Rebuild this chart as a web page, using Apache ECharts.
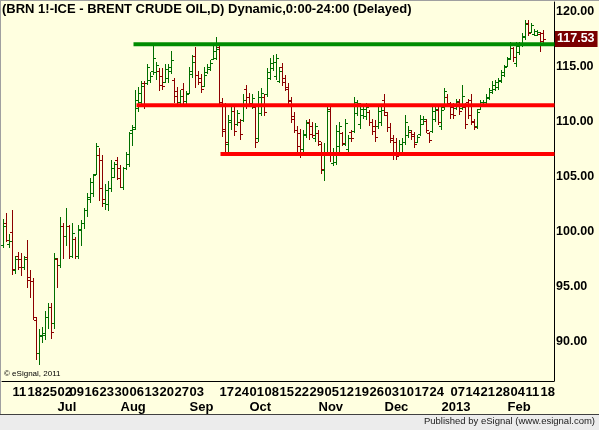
<!DOCTYPE html>
<html>
<head>
<meta charset="utf-8">
<script src="https://cdn.jsdelivr.net/npm/echarts@6/dist/echarts.min.js"></script>
<style>
  html, body { margin: 0; padding: 0; background: #ffffe0; }
  #main { width: 599px; height: 430px; }
</style>
</head>
<body>
<div id="main"></div>
<script>
// daily bars
const open = [98.8,100.8,98.9,100.0,96.5,97.8,97.5,96.8,97.7,95.9,95.5,92.0,89.0,90.5,90.6,92.3,93.2,91.7,97.5,97.0,
  100.5,99.6,100.5,97.8,99.4,97.8,100.2,100.8,102.0,103.0,103.5,105.3,107.0,106.5,102.6,102.5,104.0,105.0,106.5,105.8,
  104.1,105.8,106.2,109.3,109.4,111.3,111.8,113.5,113.5,113.8,114.6,114.5,114.6,114.2,113.6,114.0,114.6,113.8,112.8,111.8,
  113.0,111.9,112.6,114.4,116.0,114.3,114.0,113.3,114.5,114.8,115.7,115.8,116.8,111.8,109.4,108.0,110.0,111.0,109.8,110.0,
  110.2,113.0,112.3,111.6,111.4,108.5,110.8,112.3,112.5,114.0,114.9,114.2,113.7,115.0,114.0,113.2,112.0,110.5,109.3,109.0,
  107.5,108.8,110.0,109.6,108.5,109.0,108.0,105.6,107.3,111.2,106.3,106.4,107.8,109.0,108.0,107.5,109.1,109.2,110.8,109.8,
  110.6,110.5,110.9,110.0,109.6,109.6,110.0,112.0,110.6,109.5,108.5,108.2,107.2,107.3,108.2,108.8,109.1,108.9,108.2,108.9,
  109.8,110.1,109.0,109.2,110.3,111.1,109.6,111.4,112.3,111.6,111.4,111.3,111.8,111.3,111.4,111.8,112.0,110.0,109.6,111.2,
  111.5,111.6,112.2,112.7,113.0,113.2,113.7,114.3,115.1,115.8,116.7,115.4,116.4,117.0,117.7,119.0,118.2,118.0,117.9,118.0,
  118.1];
const high = [101.2,101.7,99.8,102.0,97.8,98.2,98.1,97.8,99.3,96.5,95.8,92.3,91.2,91.4,92.8,93.5,93.5,98.1,97.6,101.4,
  100.8,102.2,100.6,100.8,99.5,100.6,101.1,102.2,103.5,104.9,105.3,108.1,107.6,107.0,104.4,104.6,106.5,106.4,106.8,106.1,
  105.9,107.3,109.1,109.7,112.9,113.2,113.7,113.7,115.3,114.5,117.0,115.5,114.9,114.9,115.3,115.3,116.5,114.0,113.2,112.9,
  113.5,112.8,115.0,116.1,116.8,114.6,114.4,115.0,115.3,115.6,117.0,117.7,117.1,112.2,111.7,110.6,111.5,111.4,111.1,110.3,
  112.5,113.4,112.6,112.5,111.5,112.8,113.1,112.5,114.9,115.8,116.1,116.2,115.0,115.4,114.3,113.5,112.3,110.9,109.6,109.4,
  109.3,110.2,110.3,110.0,109.9,109.3,108.2,108.1,111.5,111.5,107.6,109.7,110.0,109.1,110.3,108.8,109.3,112.3,112.0,111.7,
  111.5,111.7,111.1,110.3,110.2,111.4,111.4,112.5,110.9,109.9,108.8,108.5,108.4,108.5,110.6,109.6,109.3,109.1,108.8,110.6,
  110.5,110.3,109.1,111.4,111.5,111.4,111.5,113.1,112.5,111.8,111.7,112.1,112.1,113.4,111.7,112.1,112.5,110.3,111.2,112.0,
  112.0,112.5,113.1,113.7,113.8,114.0,114.7,115.2,115.9,117.3,116.8,117.3,117.3,118.1,119.3,119.3,119.0,118.5,118.4,118.2,
  118.4];
const low = [98.5,99.1,98.5,96.1,96.2,96.5,96.0,96.5,94.9,94.0,92.0,88.4,87.9,89.9,90.2,91.2,90.3,91.2,94.9,96.7,
  97.5,98.7,97.5,97.6,97.5,97.5,98.7,100.3,101.4,102.6,103.2,105.2,102.8,102.3,102.0,101.9,103.6,104.9,104.7,104.0,
  103.8,105.6,105.9,107.8,109.3,110.9,111.4,111.2,113.4,113.5,114.3,113.8,112.8,112.9,113.5,113.5,114.4,111.7,111.5,111.5,
  111.5,111.5,112.5,114.0,113.1,113.4,112.6,113.2,114.4,114.6,115.6,115.6,111.4,108.6,107.3,107.0,109.3,108.7,109.6,108.4,
  110.0,111.2,111.4,111.2,107.6,108.2,110.5,110.5,112.3,113.8,114.6,113.8,113.5,113.3,112.8,111.5,109.9,109.0,107.3,106.7,
  107.3,108.5,108.4,108.5,108.2,107.8,105.3,104.6,107.1,106.4,106.0,106.1,107.3,107.8,107.8,107.2,108.2,109.0,110.5,109.4,
  110.3,110.2,109.6,108.8,108.2,109.4,109.6,110.5,109.1,108.1,106.5,106.5,107.0,107.0,107.9,108.5,108.4,107.6,108.1,108.7,
  109.7,109.0,108.1,109.0,110.0,109.7,109.3,111.1,111.4,110.3,110.3,111.1,110.6,111.1,109.4,110.3,109.7,109.3,109.4,111.1,
  111.4,111.4,112.0,112.5,112.8,112.9,113.5,114.1,115.0,115.6,115.5,115.0,116.1,116.8,117.5,117.8,118.1,117.8,117.8,116.4,
  117.0];
const close = [100.5,99.3,99.2,96.6,97.5,96.8,96.8,97.5,95.6,95.5,92.3,89.0,90.6,90.8,92.3,93.2,90.9,97.6,97.0,100.5,
  99.6,100.5,97.8,99.9,97.8,100.3,100.8,102.0,103.2,104.5,105.2,107.8,104.0,103.0,103.8,104.0,105.8,106.2,104.9,104.1,
  105.8,107.1,109.0,109.5,112.0,112.6,113.3,111.6,115.0,114.2,115.8,115.2,113.4,113.3,114.8,115.0,115.6,112.4,111.8,112.4,
  111.9,112.5,114.6,115.5,114.3,113.6,113.0,114.3,115.0,115.4,116.5,116.6,111.8,109.2,108.2,110.2,111.0,109.2,110.8,108.9,
  112.0,111.6,111.7,112.2,108.2,112.3,112.6,110.9,114.5,115.4,115.5,115.8,114.6,113.6,113.0,111.9,110.3,109.3,107.8,107.3,
  108.9,109.9,108.9,108.8,109.6,108.3,105.7,107.2,111.0,107.0,107.3,109.2,109.6,108.1,109.9,108.5,108.5,111.8,111.7,111.2,
  111.2,111.4,110.0,109.2,108.6,111.0,111.1,110.9,109.5,108.4,107.0,106.9,108.0,108.2,110.0,109.3,108.7,108.0,108.6,110.3,
  110.3,109.3,108.4,111.0,111.2,110.0,111.1,112.8,111.7,110.7,110.6,111.9,111.0,112.4,109.8,110.6,110.1,109.5,110.9,111.8,
  111.8,112.3,112.9,113.4,113.6,113.8,114.5,115.0,115.7,117.0,115.9,116.9,117.0,117.8,118.9,118.1,118.8,118.3,118.2,117.4,
  117.53];

// trading days from 6 Jun 2012, plus three empty slots on the right
const firstDay = '2012-06-06';
const holidays = ['2012-07-04', '2012-12-25', '2012-12-26', '2013-01-01'];
const dates = [];
for (let d = new Date(firstDay + 'T00:00:00Z'); dates.length < open.length + 3; d.setUTCDate(d.getUTCDate() + 1)) {
  const s = d.toISOString().slice(0, 10);
  const wd = d.getUTCDay();
  if (wd === 0 || wd === 6 || holidays.includes(s)) continue;
  dates.push(s);
}

// axis labels
const dayTicks = ['2012-06-11','2012-06-18','2012-06-25','2012-07-02','2012-07-09','2012-07-16','2012-07-23','2012-07-30',
  '2012-08-06','2012-08-13','2012-08-20','2012-08-27','2012-09-03','2012-09-17','2012-09-24','2012-10-01','2012-10-08',
  '2012-10-15','2012-10-22','2012-10-29','2012-11-05','2012-11-12','2012-11-19','2012-11-26','2012-12-03','2012-12-10',
  '2012-12-17','2012-12-24','2013-01-07','2013-01-14','2013-01-21','2013-01-28','2013-02-04','2013-02-11','2013-02-18'];
const monthTicks = ['2012-07-02','2012-08-01','2012-09-03','2012-10-01','2012-11-01','2012-12-03','2013-01-02','2013-02-01'];
const monthNames = ['Jul','Aug','Sep','Oct','Nov','Dec','2013','Feb'];
const priceTicks = [90, 95, 100, 105, 110, 115, 120];

// drawn trend lines: [start date, price]
const resistLine = ['2012-08-08', 117.06];
const midLine = ['2012-08-09', 111.52];
const supportLine = ['2012-09-18', 107.09];

const upColor = '#006e00';
const downColor = '#8c0000';
const font = 'Liberation Sans, Arial, sans-serif';

const chart = echarts.init(document.getElementById('main'));
const ohlc = open.map((o, i) => [i, o, high[i], low[i], close[i]]);
const lastIdx = dates.length - 1;
const lastBar = close.length - 1;
const hline = (ln) => [[dates.indexOf(ln[0]), ln[1]], [lastIdx, ln[1]]];

const option = {
  animation: false,
  backgroundColor: '#ffffe0',
  title: {
    text: '(BRN 1!-ICE - BRENT CRUDE OIL,D) Dynamic,0:00-24:00 (Delayed)',
    left: 2, top: 3, padding: 0,
    textStyle: { fontFamily: font, fontSize: 13, fontWeight: 'bold', color: '#000' }
  },
  grid: { left: 2, right: 45, top: 2, bottom: 49 },
  xAxis: [
    {
      type: 'category', data: dates, boundaryGap: true,
      axisLine: { lineStyle: { color: '#000', width: 1 } },
      axisTick: { show: false },
      splitLine: { show: false },
      axisLabel: {
        interval: (i, v) => dayTicks.includes(v),
        formatter: (v) => v.slice(8),
        align: 'left', margin: 5,
        fontFamily: font, fontSize: 13, fontWeight: 'bold', color: '#000'
      }
    },
    {
      type: 'category', data: dates, boundaryGap: true, position: 'bottom', offset: 15,
      axisLine: { show: false }, axisTick: { show: false },
      axisLabel: {
        interval: (i, v) => monthTicks.includes(v),
        formatter: (v) => monthNames[monthTicks.indexOf(v)] || '',
        align: 'left', margin: 5,
        fontFamily: font, fontSize: 13, fontWeight: 'bold', color: '#000'
      }
    }
  ],
  yAxis: {
    type: 'value', position: 'right', min: 86.45, max: 120.91,
    axisLine: { show: true, lineStyle: { color: '#000' } },
    axisTick: { show: false },
    splitLine: { show: false },
    axisLabel: {
      customValues: priceTicks,
      formatter: (v) => v.toFixed(2),
      margin: 2, align: 'left',
      fontFamily: font, fontSize: 12.5, fontWeight: 'bold', color: '#000'
    }
  },
  series: [
    {
      type: 'custom',
      data: ohlc,
      encode: { x: 0, y: [1, 2, 3, 4] },
      z: 2,
      renderItem: function (params, api) {
        const i = api.value(0);
        const col = api.value(4) >= api.value(1) ? upColor : downColor;
        const pO = api.coord([i, api.value(1)]);
        const pH = api.coord([i, api.value(2)]);
        const pL = api.coord([i, api.value(3)]);
        const pC = api.coord([i, api.value(4)]);
        const x = Math.floor(pH[0]);
        const yH = Math.round(pH[1]);
        const yL = Math.round(pL[1]);
        return {
          type: 'group',
          children: [
            { type: 'rect', shape: { x: x, y: yH, width: 1, height: Math.max(1, yL - yH) }, style: { fill: col } },
            { type: 'rect', shape: { x: x - 2, y: Math.round(pO[1]), width: 2, height: 1 }, style: { fill: col } },
            { type: 'rect', shape: { x: x + 1, y: Math.round(pC[1]), width: 2, height: 1 }, style: { fill: col } }
          ]
        };
      }
    },
    { type: 'line', data: hline(resistLine), symbol: 'none', z: 5, lineStyle: { color: '#008c00', width: 4, cap: 'square' } },
    { type: 'line', data: hline(midLine), symbol: 'none', z: 5, lineStyle: { color: '#ff0000', width: 4, cap: 'square' } },
    { type: 'line', data: hline(supportLine), symbol: 'none', z: 5, lineStyle: { color: '#ff0000', width: 4, cap: 'square' } },
    {
      // last price tag on the price scale
      type: 'custom', z: 10, clip: false,
      data: [[lastBar, close[lastBar]]],
      renderItem: function (params, api) {
        const p = api.coord([api.value(0), api.value(1)]);
        const cs = params.coordSys;
        return {
          type: 'text',
          x: cs.x + cs.width + 1,
          y: Math.round(p[1]),
          style: {
            text: api.value(1).toFixed(2),
            fill: '#fff',
            backgroundColor: '#7a0000',
            padding: [2, 3, 1, 2],
            font: 'bold 12.5px ' + font,
            verticalAlign: 'middle',
            align: 'left'
          }
        };
      }
    }
  ],
  graphic: [
    { type: 'rect', shape: { x: 0, y: 0, width: 599, height: 1 }, style: { fill: '#a0a0a0' }, silent: true },
    { type: 'rect', shape: { x: 0, y: 0, width: 1, height: 415 }, style: { fill: '#a0a0a0' }, silent: true },
    { type: 'rect', shape: { x: 0, y: 415, width: 599, height: 15 }, style: { fill: '#ececec' }, silent: true },
    { type: 'rect', shape: { x: 0, y: 414, width: 599, height: 1 }, style: { fill: '#404040' }, silent: true },
    {
      type: 'text', left: 4, top: 370, silent: true,
      style: { text: '\u00a9 eSignal, 2011', font: '8px ' + font, fill: '#000' }
    },
    {
      type: 'text', right: 4, top: 416, silent: true,
      style: { text: 'Published by eSignal (www.esignal.com)', font: '9.5px ' + font, fill: '#202020' }
    }
  ]
};
chart.setOption(option);
</script>
</body>
</html>
